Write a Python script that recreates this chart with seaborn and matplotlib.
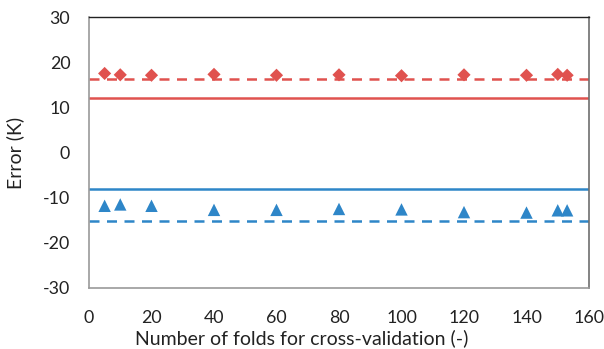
import matplotlib
matplotlib.use("Agg")
import matplotlib.pyplot as plt
import seaborn as sns
import pandas as pd

# Cross-validation fold counts and resulting errors
folds = [5, 10, 20, 40, 60, 80, 100, 120, 140, 150, 153]
max_error = [17.5, 17.2, 17.1, 17.3, 17.1, 17.2, 17.0, 17.2, 17.1, 17.3, 17.1]
min_error = [-11.8, -11.5, -11.8, -12.7, -12.7, -12.5, -12.6, -13.2, -13.3, -12.8, -12.8]

# Reference levels
max_ref_solid = 12.1
max_ref_dashed = 16.3
min_ref_solid = -8.0
min_ref_dashed = -15.1

RED = "#E0524F"
BLUE = "#2E86C8"

sns.set_theme(style="white")
plt.rcParams["font.family"] = ["Lato", "DejaVu Sans"]
plt.rcParams["axes.unicode_minus"] = False

df = pd.DataFrame({"folds": folds, "max": max_error, "min": min_error})

fig = plt.figure(figsize=(6.04, 3.49), dpi=100)
ax = fig.add_axes([89 / 604, 1 - 288 / 349, 500 / 604, 271 / 349])

ax.axhline(max_ref_solid, color=RED, lw=1.8, zorder=2)
ax.axhline(max_ref_dashed, color=RED, lw=1.8, ls=(0, (4, 3)), zorder=2)
ax.axhline(min_ref_solid, color=BLUE, lw=1.8, zorder=2)
ax.axhline(min_ref_dashed, color=BLUE, lw=1.8, ls=(0, (4, 3)), zorder=2)

sns.scatterplot(data=df, x="folds", y="max", marker="D", color=RED, s=45,
                edgecolor="none", ax=ax, zorder=3)
sns.scatterplot(data=df, x="folds", y="min", marker="^", color=BLUE, s=80,
                edgecolor="none", ax=ax, zorder=3)

ax.set_xlim(0, 160)
ax.set_ylim(-30, 30)
ax.set_xticks(range(0, 161, 20))
ax.set_yticks(range(-30, 31, 10))
ax.tick_params(axis="both", direction="in", length=4, width=0.8, color="#A0A0A0",
               labelsize=12.8, labelcolor="#222222")
ax.tick_params(axis="y", pad=13.5)
ax.tick_params(axis="x", pad=15.5)

for side in ["left", "bottom"]:
    ax.spines[side].set_color("#9A9A9A")
    ax.spines[side].set_linewidth(1.2)
ax.spines["top"].set_color("#222222")
ax.spines["top"].set_linewidth(1.0)
ax.spines["right"].set_color("#6E6E6E")
ax.spines["right"].set_linewidth(1.2)

ax.set_xlabel("Number of folds for cross-validation (-)", fontsize=14,
              color="#222222", va="baseline")
ax.xaxis.set_label_coords((302 - 89) / 500, (288 - 344) / 271)
ax.set_ylabel("Error (K)", fontsize=14, color="#222222", va="center")
ax.yaxis.set_label_coords((15 - 89) / 500, (288 - 153) / 271)

fig.savefig("out.png", dpi=100)
